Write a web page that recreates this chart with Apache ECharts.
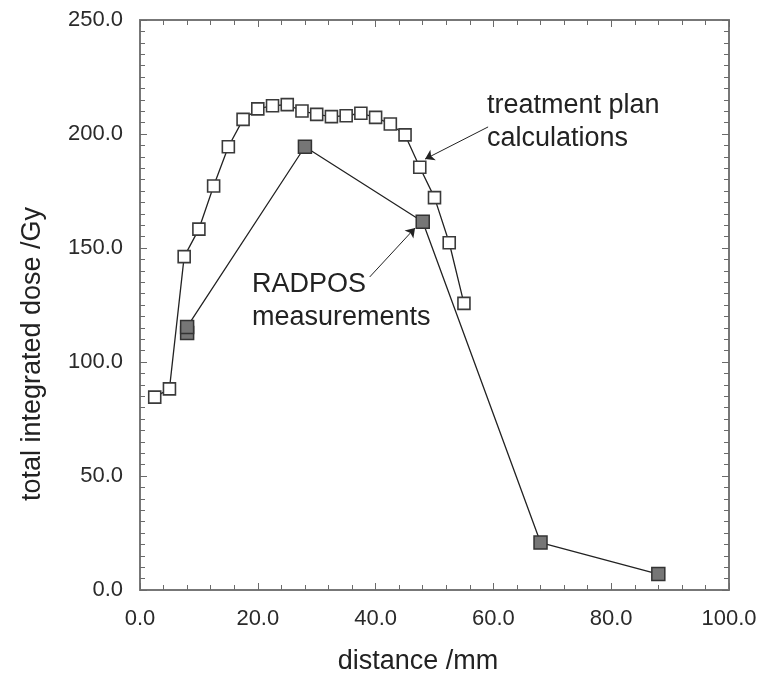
<!DOCTYPE html>
<html>
<head>
<meta charset="utf-8">
<script src="https://cdn.jsdelivr.net/npm/echarts@6/dist/echarts.min.js"></script>
<style>
html,body{margin:0;padding:0;background:#fff;}
#chart{width:768px;height:680px;}
</style>
</head>
<body>
<div id="chart"></div>
<script>
// 数据
var planX = [2.5, 5.0, 7.5, 10.0, 12.5, 15.0, 17.5, 20.0, 22.5, 25.0, 27.5, 30.0, 32.5, 35.0, 37.5, 40.0, 42.5, 45.0, 47.5, 50.0, 52.5, 55.0];
var planY = [84.6, 88.2, 146.2, 158.3, 177.2, 194.4, 206.4, 211.0, 212.4, 212.9, 210.1, 208.6, 207.6, 208.0, 209.1, 207.3, 204.4, 199.6, 185.4, 172.1, 152.3, 125.7];
var radposX = [8.0, 8.0, 28.0, 48.0, 68.0, 88.0];
var radposY = [112.7, 115.4, 194.4, 161.5, 20.8, 7.0];
var xTicks = [0, 20, 40, 60, 80, 100];
var yTicks = [0, 50, 100, 150, 200, 250];

var font = 'Liberation Sans, Arial, Helvetica, sans-serif';
var axisGray = '#777';

function pairs(xs, ys){
	var out = [];
	for(var i=0;i<xs.length;i++){
		out.push([xs[i], ys[i]]);
	}
	return out;
}

//坐标轴公共设置，刻度朝内
function axisBase(min, max, interval, minorSplit, position, showLabel){
	return {
		type : 'value',
		position : position,
		min : min,
		max : max,
		interval : interval,
		axisLine : { show:true, onZero:false, lineStyle:{ color:axisGray, width:2 } },
		axisTick : { show:true, inside:true, length:7, lineStyle:{ color:'#6a6a6a', width:1 } },
		minorTick : { show:true, splitNumber:minorSplit, length:5, lineStyle:{ color:'#6a6a6a', width:1 } },
		splitLine : { show:false },
		axisLabel : {
			show : showLabel,
			fontFamily : font,
			fontSize : 22,
			color : '#2a2a2a',
			margin : position == 'bottom' ? 18 : 17,
			formatter : function(v){ return v.toFixed(1); }
		}
	};
}

var chart = echarts.init(document.getElementById('chart'));
var option = {
	animation : false,
	backgroundColor : '#fff',
	grid : { left:140, right:39, top:20, bottom:90 },
	xAxis : [
		axisBase(xTicks[0], xTicks[xTicks.length-1], 20, 5, 'bottom', true),
		axisBase(xTicks[0], xTicks[xTicks.length-1], 20, 5, 'top', false)
	],
	yAxis : [
		axisBase(yTicks[0], yTicks[yTicks.length-1], 50, 10, 'left', true),
		axisBase(yTicks[0], yTicks[yTicks.length-1], 50, 10, 'right', false)
	],
	graphic : [
		{ type:'text', x:33, y:354, rotation:Math.PI/2,
		  style:{ text:'total integrated dose /Gy', font:'27px '+font, fill:'#222', align:'center', verticalAlign:'middle' } },
		{ type:'text', x:418, y:662,
		  style:{ text:'distance /mm', font:'27px '+font, fill:'#222', align:'center', verticalAlign:'middle' } },
		{ type:'text', x:487, y:122,
		  style:{ text:'treatment plan\ncalculations', font:'27px '+font, fill:'#222', align:'left', verticalAlign:'middle', lineHeight:33 } },
		{ type:'text', x:252, y:301,
		  style:{ text:'RADPOS\nmeasurements', font:'27px '+font, fill:'#222', align:'left', verticalAlign:'middle', lineHeight:33 } }
	],
	series : [{
		name : 'treatment plan calculations',
		type : 'line',
		data : pairs(planX, planY),
		symbol : 'rect',
		symbolSize : 12,
		lineStyle : { color:'#222', width:1.3 },
		itemStyle : { color:'#fff', borderColor:'#3a3a3a', borderWidth:1.6 },
		z : 2,
		markLine : {
			silent : true,
			symbol : ['none', 'arrow'],
			symbolSize : 9,
			label : { show:false },
			lineStyle : { color:'#222', width:1, type:'solid' },
			data : [
				[ { coord:[59.1, 203.1] }, { coord:[48.4, 189.0] } ],
				[ { coord:[39.0, 137.3] }, { coord:[46.7, 158.8] } ]
			]
		}
	},{
		name : 'RADPOS measurements',
		type : 'line',
		data : pairs(radposX, radposY),
		symbol : 'rect',
		symbolSize : 13,
		lineStyle : { color:'#222', width:1.3 },
		itemStyle : { color:'#767676', borderColor:'#333', borderWidth:1.5 },
		z : 3
	}]
};
chart.setOption(option);
</script>
</body>
</html>
